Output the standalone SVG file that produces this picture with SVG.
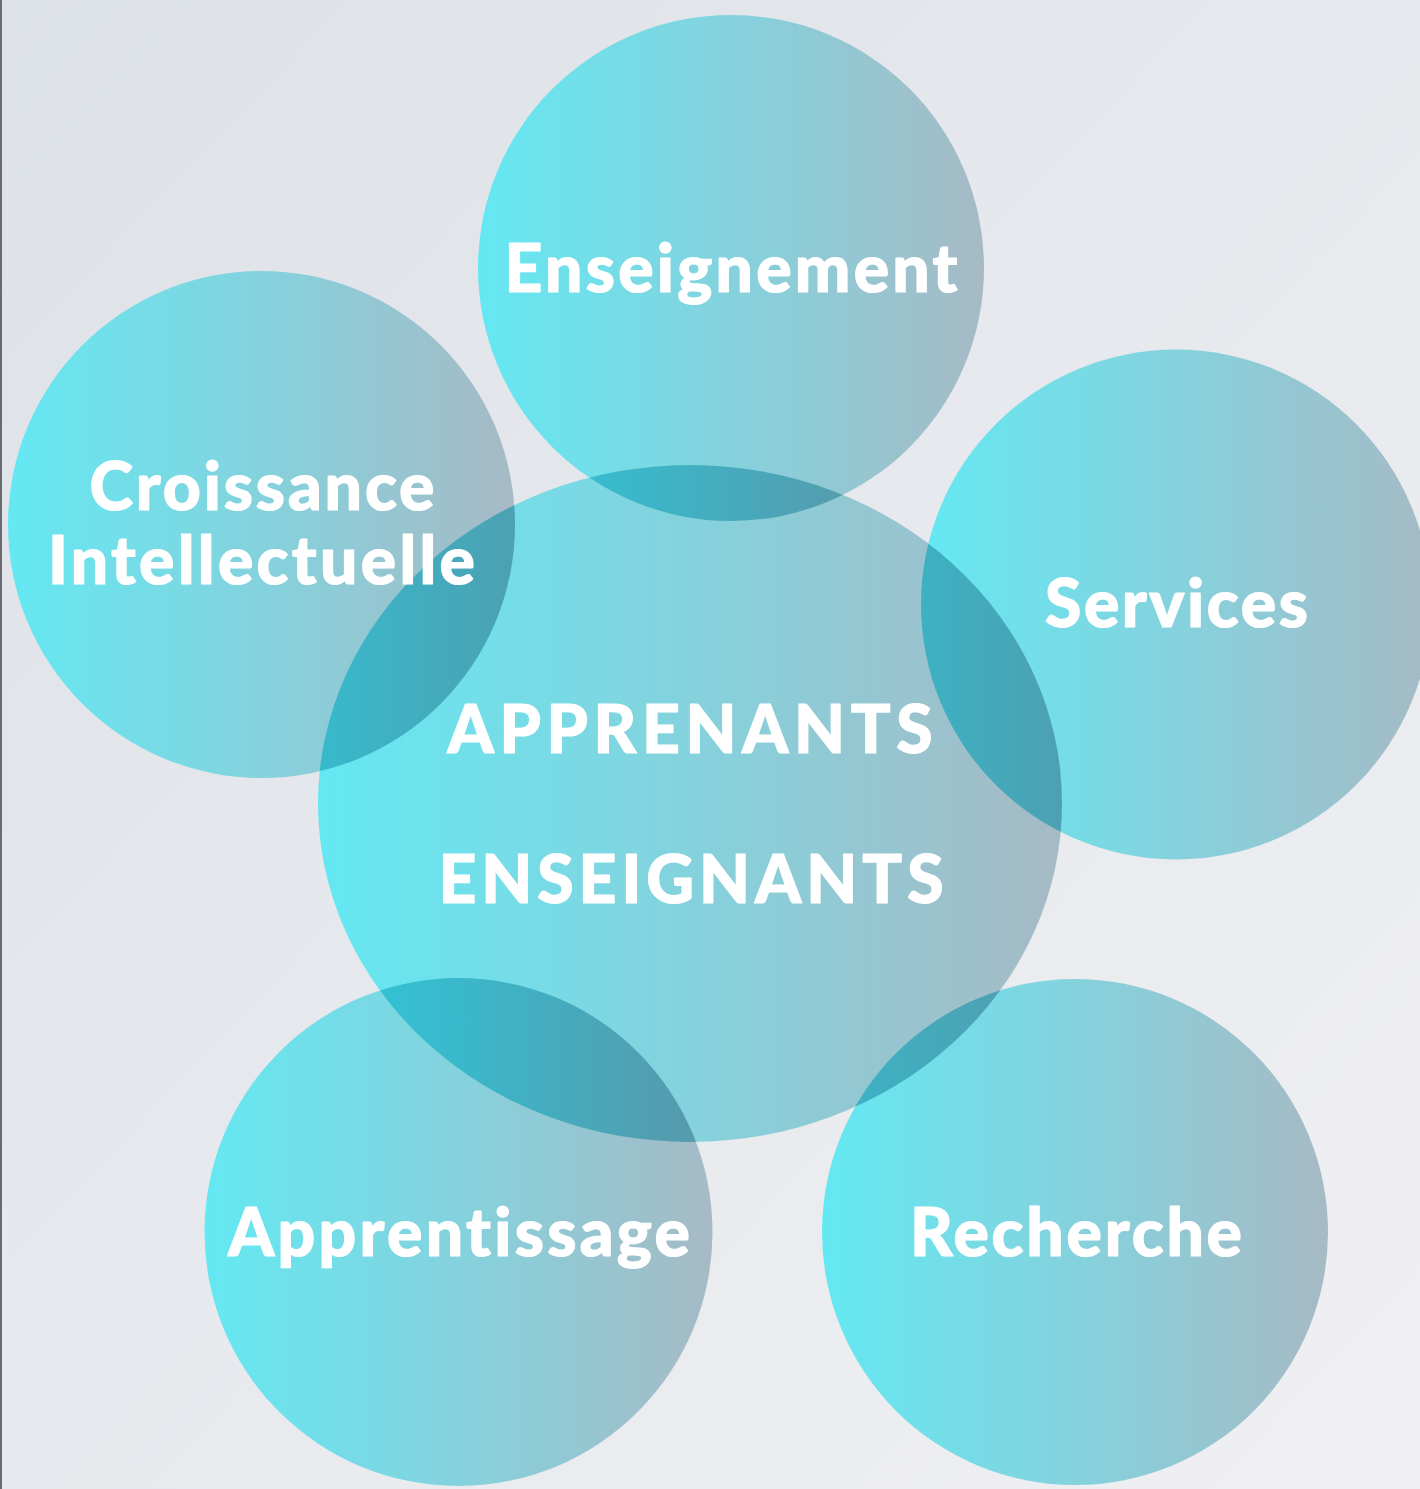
<svg xmlns="http://www.w3.org/2000/svg" width="1420" height="1489" viewBox="0 0 1420 1489">
  <defs>
    <linearGradient id="bg" x1="0" y1="0" x2="1" y2="1">
      <stop offset="0" stop-color="#dde2e8"/>
      <stop offset="1" stop-color="#f0f0f3"/>
    </linearGradient>
    <linearGradient id="fillG" x1="0" y1="0" x2="1" y2="0">
      <stop offset="0" stop-color="#64e8f2"/>
      <stop offset="0.5" stop-color="#84d2dd"/>
      <stop offset="1" stop-color="#a6bac5"/>
    </linearGradient>
    <style>
      .shape { fill: url(#fillG); mix-blend-mode: multiply; }
      .lbl { fill: #ffffff; stroke: #ffffff; stroke-width: 1.2px; stroke-linejoin: round; font-family: "Lato", "Open Sans", "DejaVu Sans", sans-serif; font-weight: 900; text-anchor: middle; font-variant-ligatures: none; }
      .big { font-size: 66px; }
    </style>
  </defs>
  <rect x="0" y="0" width="1420" height="1489" fill="url(#bg)"/>
  <rect x="0" y="0" width="2" height="1489" fill="#6a6b6e"/>
  <g id="connectors"/>
  <g id="nodes" style="isolation:isolate">
    <g id="node-center">
      <ellipse class="shape" cx="690" cy="803.5" rx="372" ry="338.5"/>
      <text class="lbl big" x="690" y="753" textLength="485">APPRENANTS</text>
      <text class="lbl big" x="691" y="903" textLength="505">ENSEIGNANTS</text>
    </g>
    <g id="node-enseignement">
      <circle class="shape" cx="731" cy="268" r="253"/>
      <text class="lbl big" x="731" y="292" textLength="453">Enseignement</text>
    </g>
    <g id="node-croissance">
      <circle class="shape" cx="261.5" cy="524.5" r="253.5"/>
      <text class="lbl big" x="262" y="510" textLength="345">Croissance</text>
      <text class="lbl big" x="261.5" y="584" textLength="427">Intellectuelle</text>
    </g>
    <g id="node-services">
      <circle class="shape" cx="1176" cy="604.5" r="255"/>
      <text class="lbl big" x="1176.5" y="627" textLength="263">Services</text>
    </g>
    <g id="node-apprentissage">
      <circle class="shape" cx="458.5" cy="1232" r="254"/>
      <text class="lbl big" x="459" y="1256" textLength="462">Apprentissage</text>
    </g>
    <g id="node-recherche">
      <circle class="shape" cx="1075" cy="1232" r="253"/>
      <text class="lbl big" x="1076" y="1256" textLength="332">Recherche</text>
    </g>
  </g>
</svg>
